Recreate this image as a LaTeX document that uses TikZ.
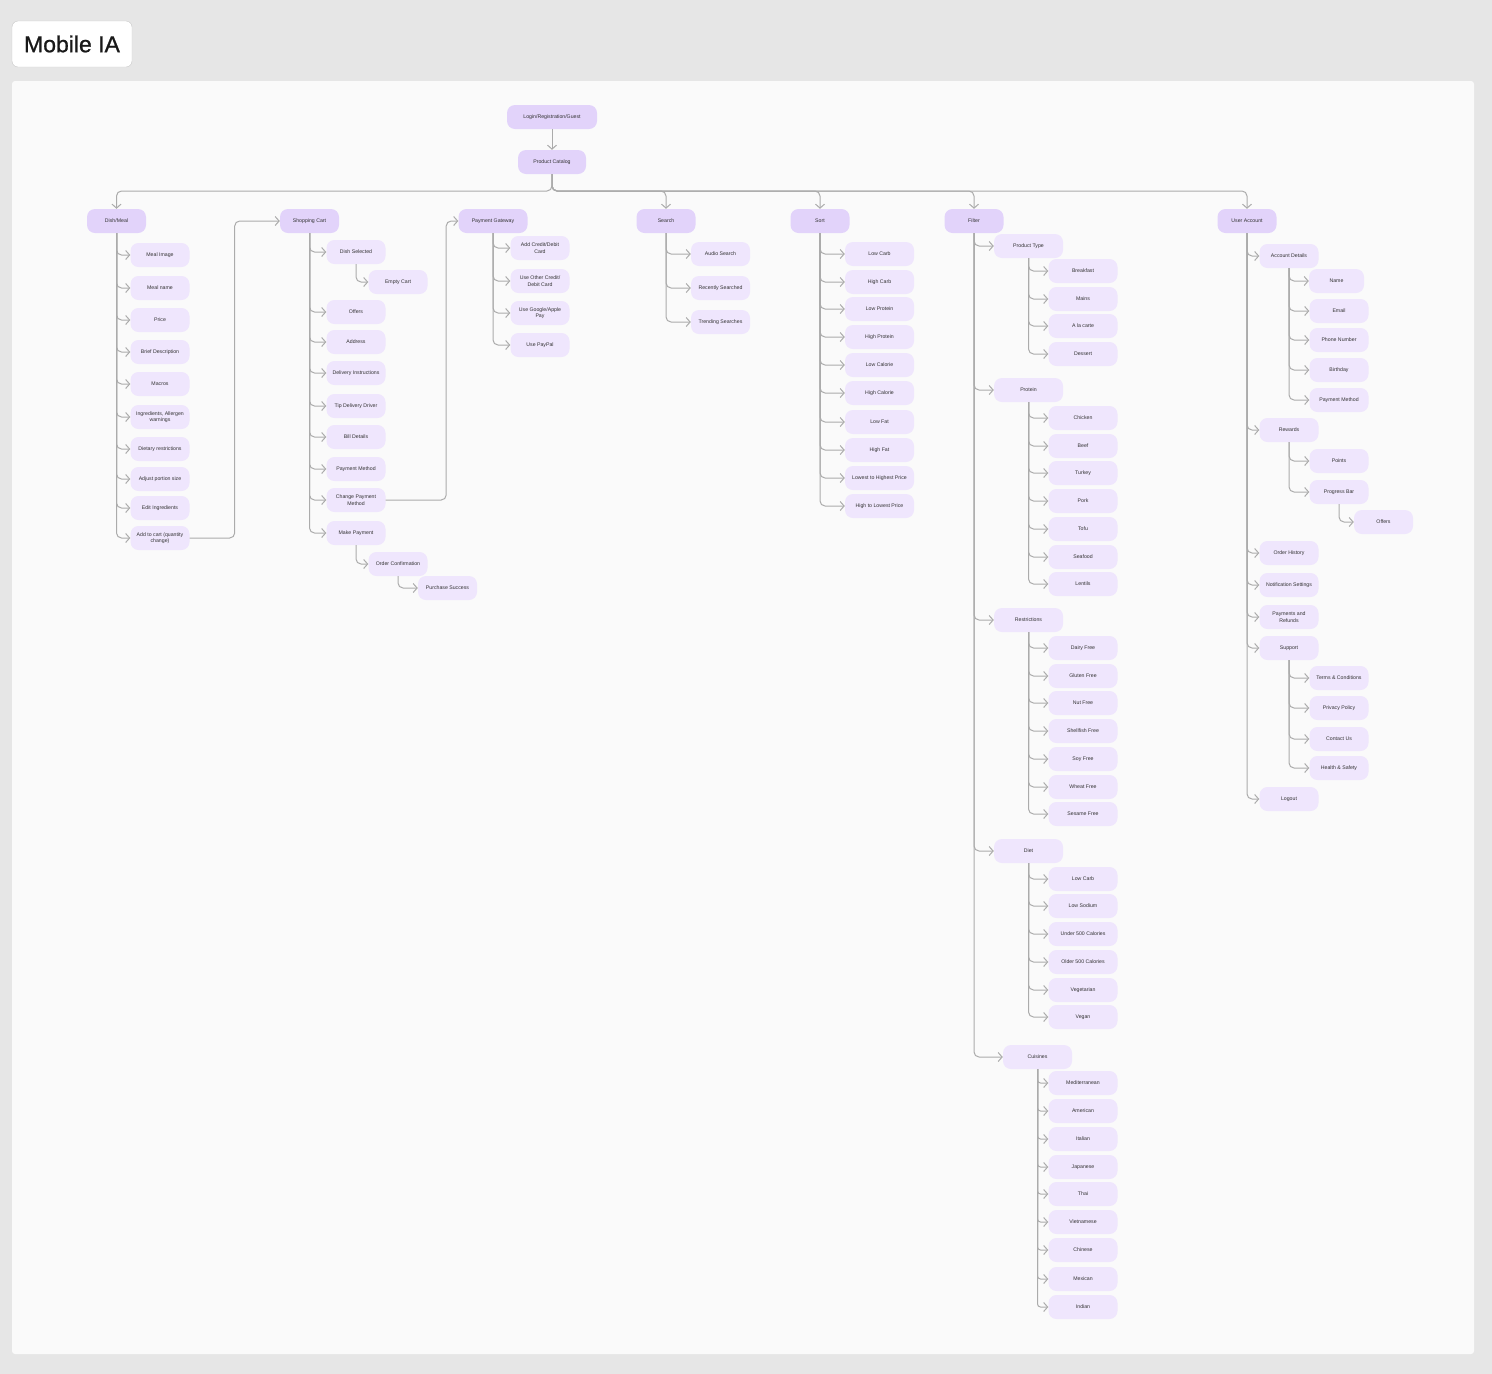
\documentclass[tikz,border=0pt]{standalone}
\usepackage{fontspec}
\setmainfont{Liberation Sans}
\newfontfamily\titlefont{Liberation Sans}[FakeBold=0.9]
\usetikzlibrary{arrows.meta}
\definecolor{bgc}{HTML}{E6E6E6}
\definecolor{panelc}{HTML}{FAFAFA}
\definecolor{topc}{HTML}{E2D3FA}
\definecolor{leafc}{HTML}{EFE6FD}
\definecolor{linec}{HTML}{ABABAB}
\definecolor{txtc}{HTML}{333333}
\definecolor{titleb}{HTML}{C8C8C8}
\tikzset{
  box/.style={rectangle, rounded corners=8pt, minimum height=24pt, inner sep=0pt, align=center,
    text=txtc, font=\fontsize{5.2}{6.4}\selectfont},
  topbox/.style={box, fill=topc, minimum width=59pt},
  leaf/.style={box, fill=leafc, minimum width=59pt},
  wleaf/.style={box, fill=leafc, minimum width=69pt},
  conn/.style={draw=linec, line width=1pt, rounded corners=5pt,
    -{Straight Barb[length=4pt,width=9pt,line width=1pt]}},
}
\begin{document}
\begin{tikzpicture}[x=1pt,y=-1pt]
\fill[bgc] (0,0) rectangle (1492,1374);
\useasboundingbox (0,0) rectangle (1492,1374);
\fill[panelc, rounded corners=3pt] (12,81) rectangle (1474,1354);
\node[draw=titleb, fill=white, rounded corners=6pt, minimum width=120pt, minimum height=46pt,
  inner sep=0pt, font=\titlefont\fontsize{23}{26}\selectfont, text=black!90] (title) at (72,44) {Mobile IA};

% top level
\node[topbox, minimum width=90pt] (login) at (552,117) {Login/Registration/Guest};
\node[topbox, minimum width=68pt] (pc) at (552,162) {Product Catalog};
\draw[conn] (login.south) -- (pc.north);
\coordinate (bus) at (552,191);
\node[topbox] (dm) at (116.5,221) {Dish/Meal};
\node[topbox] (sc) at (309.5,221) {Shopping Cart};
\node[topbox, minimum width=69pt] (pg) at (493,221) {Payment Gateway};
\node[topbox] (se) at (666,221) {Search};
\node[topbox] (so) at (820,221) {Sort};
\node[topbox] (fi) at (974,221) {Filter};
\node[topbox] (ua) at (1247,221) {User Account};
\foreach \t in {dm,se,so,fi,ua} \draw[conn] (pc.south) -- (bus) -| (\t.north);

% Dish/Meal
\foreach \txt/\yy [count=\i] in {Meal Image/255, Meal name/288, Price/320, Brief Description/352,
  Macros/384, {Ingredients, Allergen\\warnings}/417, Dietary restrictions/449,
  Adjust portion size/479, Edit Ingredients/508, {Add to cart (quantity\\change)}/538} {
  \node[leaf] (dm\i) at (160,\yy) {\txt};
  \draw[conn] (dm.south) |- (dm\i.west);
}
\draw[conn] (dm10.east) -- ++(45,0) |- (sc.west);

% Shopping Cart
\foreach \txt/\yy/\nm in {Dish Selected/252/ds, Offers/312/of, Address/342/ad,
  Delivery Instructions/373/di, Tip Delivery Driver/406/td, Bill Details/437/bd,
  Payment Method/469/pm, {Change Payment\\Method}/500/cpm, Make Payment/533/mp} {
  \node[leaf] (\nm) at (356,\yy) {\txt};
  \draw[conn] (sc.south) |- (\nm.west);
}
\node[leaf] (ec) at (398,282) {Empty Cart};
\draw[conn] (ds.south) |- (ec.west);
\node[leaf] (oc) at (398,564) {Order Confirmation};
\draw[conn] (mp.south) |- (oc.west);
\node[leaf] (ps) at (447.5,588) {Purchase Success};
\draw[conn] (oc.south) |- (ps.west);
\draw[conn] (cpm.east) -- ++(60.5,0) |- (pg.west);

% Payment Gateway
\foreach \txt/\yy [count=\i] in {{Add Credit/Debit\\Card}/248, {Use Other Credit/\\Debit Card}/281,
  {Use Google/Apple\\Pay}/313, Use PayPal/345} {
  \node[leaf] (pg\i) at (540,\yy) {\txt};
  \draw[conn] (pg.south) |- (pg\i.west);
}

% Search
\foreach \txt/\yy [count=\i] in {Audio Search/254, Recently Searched/288, Trending Searches/322} {
  \node[leaf] (se\i) at (720.5,\yy) {\txt};
  \draw[conn] (se.south) |- (se\i.west);
}

% Sort
\foreach \txt/\yy [count=\i] in {Low Carb/254, High Carb/282, Low Protein/309, High Protein/337,
  Low Calorie/365, High Calorie/393, Low Fat/422, High Fat/450,
  Lowest to Highest Price/478, High to Lowest Price/506} {
  \node[wleaf] (so\i) at (879.5,\yy) {\txt};
  \draw[conn] (so.south) |- (so\i.west);
}

% Filter
\node[wleaf] (pt) at (1028.5,246) {Product Type};
\node[wleaf] (pr) at (1028.5,390) {Protein};
\node[wleaf] (re) at (1028.5,620) {Restrictions};
\node[wleaf] (di) at (1028.5,851) {Diet};
\node[wleaf] (cu) at (1037.5,1057) {Cuisines};
\foreach \t in {pt,pr,re,di,cu} \draw[conn] (fi.south) |- (\t.west);
\foreach \txt/\yy [count=\i] in {Breakfast/271, Mains/299, A la carte/326, Dessert/354} {
  \node[wleaf] (pt\i) at (1083,\yy) {\txt};
  \draw[conn] (pt.south) |- (pt\i.west);
}
\foreach \txt/\yy [count=\i] in {Chicken/418, Beef/446, Turkey/473, Pork/501, Tofu/529,
  Seafood/557, Lentils/584} {
  \node[wleaf] (pr\i) at (1083,\yy) {\txt};
  \draw[conn] (pr.south) |- (pr\i.west);
}
\foreach \txt/\yy [count=\i] in {Dairy Free/648, Gluten Free/676, Nut Free/703, Shellfish Free/731,
  Soy Free/759, Wheat Free/787, Sesame Free/814} {
  \node[wleaf] (re\i) at (1083,\yy) {\txt};
  \draw[conn] (re.south) |- (re\i.west);
}
\foreach \txt/\yy [count=\i] in {Low Carb/879, Low Sodium/906, Under 500 Calories/934,
  Older 500 Calories/962, Vegetarian/990, Vegan/1017} {
  \node[wleaf] (di\i) at (1083,\yy) {\txt};
  \draw[conn] (di.south) |- (di\i.west);
}
\foreach \txt/\yy [count=\i] in {Mediterranean/1083, American/1111, Italian/1139, Japanese/1167,
  Thai/1194, Vietnamese/1222, Chinese/1250, Mexican/1279, Indian/1307} {
  \node[wleaf] (cu\i) at (1083,\yy) {\txt};
  \draw[conn, rounded corners=3pt] (cu.south) |- (cu\i.west);
}

% User Account
\foreach \txt/\yy/\nm in {Account Details/256/ad, Rewards/430/rw, Order History/553/oh,
  Notification Settings/585/ns, {Payments and\\Refunds}/617/pa, Support/648/su, Logout/799/lo} {
  \node[leaf] (ua\nm) at (1289,\yy) {\txt};
  \draw[conn] (ua.south) |- (ua\nm.west);
}
\node[leaf, minimum width=55pt] (ad1) at (1336.5,281) {Name};
\draw[conn] (uaad.south) |- (ad1.west);
\foreach \txt/\yy [count=\i from 2] in {Email/311, Phone Number/340, Birthday/370, Payment Method/400} {
  \node[leaf] (ad\i) at (1339,\yy) {\txt};
  \draw[conn] (uaad.south) |- (ad\i.west);
}
\node[leaf] (rw1) at (1339,461) {Points};
\node[leaf] (rw2) at (1339,492) {Progress Bar};
\draw[conn] (uarw.south) |- (rw1.west);
\draw[conn] (uarw.south) |- (rw2.west);
\node[leaf] (rwo) at (1383.5,522) {Offers};
\draw[conn] (rw2.south) |- (rwo.west);
\foreach \txt/\yy [count=\i] in {Terms \& Conditions/678, Privacy Policy/708, Contact Us/739,
  Health \& Safety/768} {
  \node[leaf] (su\i) at (1339,\yy) {\txt};
  \draw[conn] (uasu.south) |- (su\i.west);
}
\end{tikzpicture}
\end{document}
